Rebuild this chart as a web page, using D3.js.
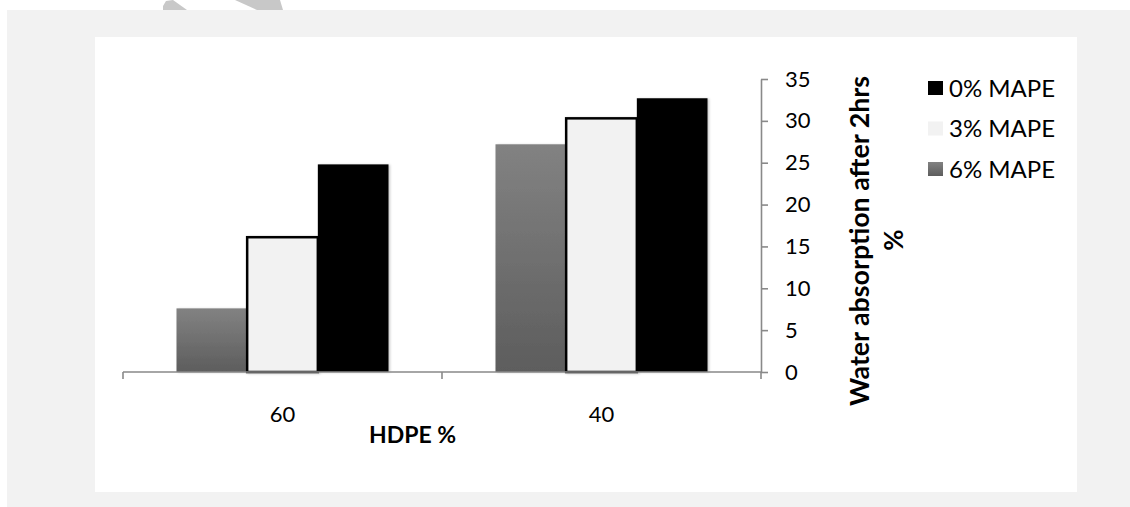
<!DOCTYPE html>
<html>
<head>
<meta charset="utf-8">
<script src="https://cdn.jsdelivr.net/npm/d3@7"></script>
<style>
  html, body { margin: 0; padding: 0; background: #ffffff; }
  svg { display: block; }
  text { font-family: Lato, "Open Sans", sans-serif; fill: #000; }
</style>
</head>
<body>
<svg id="chart" width="1130" height="507"></svg>
<script>
// HDPE content groups along the x axis
const categories = ["60", "40"];
// MAPE series, drawn left to right inside each group
const series = ["6% MAPE", "3% MAPE", "0% MAPE"];
// Water absorption (%) after 2 hrs, per series, per category
const mape6 = [7.6, 27.2];
const mape3 = [16.1, 30.3];
const mape0 = [24.8, 32.7];
const yTicks = [0, 5, 10, 15, 20, 25, 30, 35];
const legendOrder = ["0% MAPE", "3% MAPE", "6% MAPE"];

const valuesBySeries = { "6% MAPE": mape6, "3% MAPE": mape3, "0% MAPE": mape0 };

const svg = d3.select("#chart");
const defs = svg.append("defs");

const grad = defs.append("linearGradient")
  .attr("id", "grayGrad").attr("x1", 0).attr("y1", 0).attr("x2", 0).attr("y2", 1);
grad.append("stop").attr("offset", "0%").attr("stop-color", "#828282");
grad.append("stop").attr("offset", "100%").attr("stop-color", "#5d5d5d");

const shadow = defs.append("filter").attr("id", "barShadow")
  .attr("x", "-10%").attr("y", "-5%").attr("width", "125%").attr("height", "110%");
shadow.append("feDropShadow").attr("dx", 1.5).attr("dy", 0.5)
  .attr("stdDeviation", 1.2).attr("flood-color", "#000").attr("flood-opacity", 0.22);

// page backdrop and faint mark at the very top
const mark = svg.append("g").attr("fill", "#c8c8c8");
mark.append("polygon").attr("points", "166,1 173,0 187,10 163,10 163,6");
mark.append("polygon").attr("points", "235,0 280,0 283,10 257,10");
svg.append("rect").attr("x", 7).attr("y", 10).attr("width", 1123).attr("height", 497).attr("fill", "#f2f2f2");
svg.append("rect").attr("x", 95).attr("y", 37).attr("width", 982).attr("height", 455).attr("fill", "#ffffff");

const x = d3.scaleBand().domain(categories).range([123, 761]).paddingInner(0).paddingOuter(0);
const xs = d3.scaleBand().domain(series).range([0, x.bandwidth()]).paddingInner(0).paddingOuter(0.757);
const y = d3.scaleLinear().domain([0, 35]).range([372, 79]);

const fills = { "6% MAPE": "url(#grayGrad)", "3% MAPE": "#f2f2f2", "0% MAPE": "#000000" };

const bars = svg.append("g");
series.forEach(s => {
  bars.append("g").selectAll("rect")
    .data(categories.map((c, i) => ({ c, v: valuesBySeries[s][i] })))
    .join("rect")
    .attr("x", d => x(d.c) + xs(s))
    .attr("y", d => y(d.v))
    .attr("width", xs.bandwidth())
    .attr("height", d => y(0) - y(d.v))
    .attr("fill", fills[s])
    .attr("stroke", s === "3% MAPE" ? "#000" : "none")
    .attr("stroke-width", s === "3% MAPE" ? 2.5 : 0)
    .attr("filter", "url(#barShadow)");
});

const axisColor = "#898989";

// category axis: baseline with ticks on group boundaries
const xAxis = svg.append("g");
xAxis.append("line")
  .attr("x1", x.range()[0]).attr("x2", x.range()[1])
  .attr("y1", y(0)).attr("y2", y(0))
  .attr("stroke", axisColor).attr("stroke-width", 1.6);
const bounds = [x(categories[0])].concat(categories.map(c => x(c) + x.bandwidth()));
xAxis.selectAll("line.tick").data(bounds).join("line").attr("class", "tick")
  .attr("x1", d => d).attr("x2", d => d)
  .attr("y1", y(0)).attr("y2", y(0) + 7)
  .attr("stroke", axisColor).attr("stroke-width", 1.6);
xAxis.selectAll("text").data(categories).join("text")
  .attr("x", d => x(d) + x.bandwidth() / 2)
  .attr("y", 422)
  .attr("text-anchor", "middle")
  .attr("font-size", 22)
  .text(d => d);

// value axis on the right
const yAxis = svg.append("g")
  .attr("transform", `translate(${x.range()[1]},0)`)
  .call(d3.axisRight(y).tickValues(yTicks).tickSize(7).tickSizeOuter(0).tickPadding(17));
yAxis.select(".domain").attr("stroke", axisColor).attr("stroke-width", 1.6);
yAxis.selectAll(".tick line").attr("stroke", axisColor).attr("stroke-width", 1.6);
yAxis.selectAll(".tick text").attr("font-size", 22).attr("font-family", "Lato, 'Open Sans', sans-serif").attr("fill", "#000");

// axis titles
svg.append("text")
  .attr("transform", "translate(869,241) rotate(-90)")
  .attr("text-anchor", "middle")
  .attr("font-weight", "bold")
  .attr("font-size", 26)
  .attr("textLength", 330).attr("lengthAdjust", "spacingAndGlyphs")
  .text("Water  absorption after 2hrs");
svg.append("text")
  .attr("transform", "translate(903,240) rotate(-90)")
  .attr("text-anchor", "middle")
  .attr("font-weight", "bold")
  .attr("font-size", 26)
  .text("%");
svg.append("text")
  .attr("x", 369).attr("y", 443)
  .attr("font-weight", "bold")
  .attr("font-size", 23)
  .text("HDPE %");

// legend
const legend = svg.append("g");
const rowY = d3.scalePoint().domain(legendOrder).range([88, 169]);
legendOrder.forEach(s => {
  legend.append("rect")
    .attr("x", 928).attr("y", rowY(s) - 7)
    .attr("width", 15).attr("height", 14)
    .attr("fill", fills[s]);
  legend.append("text")
    .attr("x", 949).attr("y", rowY(s) + 8.5)
    .attr("font-size", 24)
    .text(s);
});
</script>
</body>
</html>
